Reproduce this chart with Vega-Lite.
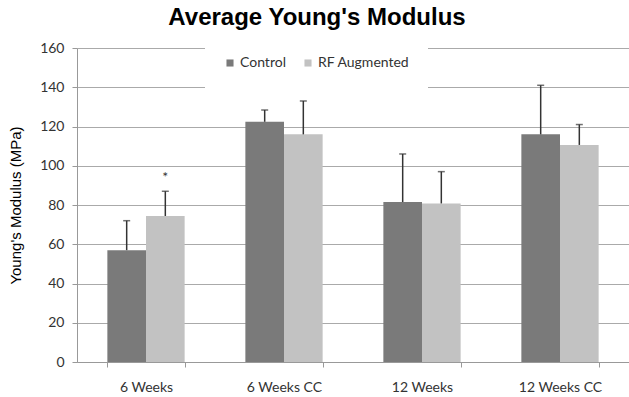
{
  "$schema": "https://vega.github.io/schema/vega-lite/v6.json",
  "width": 552,
  "height": 314,
  "autosize": {"type": "none"},
  "padding": {"left": 77, "top": 48, "right": 0, "bottom": 35},
  "background": "white",
  "title": {"text": "Average Young's Modulus", "font": "Liberation Sans", "fontSize": 24, "fontWeight": "bold", "color": "#000", "dx": -36, "offset": 8},
  "config": {"view": {"stroke": null}},
  "data": {"values": [
    {"group": "6 Weeks", "series": "Control", "mean": 57, "upper": 72},
    {"group": "6 Weeks", "series": "RF Augmented", "mean": 74.4, "upper": 87, "star": "*", "star_y": 94},
    {"group": "6 Weeks CC", "series": "Control", "mean": 122.4, "upper": 128.4},
    {"group": "6 Weeks CC", "series": "RF Augmented", "mean": 116, "upper": 133},
    {"group": "12 Weeks", "series": "Control", "mean": 81.5, "upper": 106},
    {"group": "12 Weeks", "series": "RF Augmented", "mean": 80.8, "upper": 97},
    {"group": "12 Weeks CC", "series": "Control", "mean": 116, "upper": 141},
    {"group": "12 Weeks CC", "series": "RF Augmented", "mean": 110.6, "upper": 121}
  ]},
  "encoding": {
    "x": {"field": "group", "type": "nominal", "sort": ["6 Weeks", "6 Weeks CC", "12 Weeks", "12 Weeks CC"],
      "scale": {"paddingInner": 0.44, "paddingOuter": 0.22},
      "axis": {"title": null, "labelAngle": 0, "grid": false, "tickBand": "extent", "tickSize": 5, "tickColor": "#999", "domainColor": "#999", "labelFont": "Lato", "labelFontSize": 14, "labelColor": "#333", "labelPadding": 13}},
    "xOffset": {"field": "series", "type": "nominal", "sort": ["Control", "RF Augmented"], "scale": {"paddingInner": 0, "paddingOuter": 0}}
  },
  "layer": [
    {
      "mark": {"type": "bar"},
      "encoding": {
        "y": {"field": "mean", "type": "quantitative", "scale": {"domain": [0, 160]},
          "axis": {"title": "Young's Modulus (MPa)", "titleFont": "Liberation Sans", "titleFontSize": 15, "titleFontWeight": "normal", "titleColor": "#000", "titlePadding": 16,
            "values": [0, 20, 40, 60, 80, 100, 120, 140, 160], "labelOverlap": false, "gridColor": "#aaa", "gridWidth": 1, "domainColor": "#999", "tickColor": "#999", "tickSize": 5,
            "labelFont": "Lato", "labelFontSize": 14, "labelColor": "#333", "labelPadding": 8}},
        "color": {"field": "series", "type": "nominal", "sort": ["Control", "RF Augmented"],
          "scale": {"domain": ["Control", "RF Augmented"], "range": ["#7a7a7a", "#c2c2c2"]},
          "legend": {"title": null, "orient": "none", "direction": "horizontal", "legendX": 128, "legendY": -10, "fillColor": "white", "padding": 18,
            "symbolType": "square", "symbolSize": 50, "symbolStrokeWidth": 0, "symbolOffset": 0, "labelOffset": 3, "labelFont": "Lato", "labelFontSize": 14, "labelColor": "#333", "columnPadding": 15, "labelLimit": 200}}
      }
    },
    {
      "mark": {"type": "rule", "color": "#333", "strokeWidth": 1.5},
      "encoding": {
        "y": {"field": "mean", "type": "quantitative", "scale": {"domain": [0, 160]},
          "axis": {"title": "Young's Modulus (MPa)", "titleFont": "Liberation Sans", "titleFontSize": 15, "titleFontWeight": "normal", "titleColor": "#000", "titlePadding": 16,
            "values": [0, 20, 40, 60, 80, 100, 120, 140, 160], "labelOverlap": false, "gridColor": "#aaa", "gridWidth": 1, "domainColor": "#999", "tickColor": "#999", "tickSize": 5,
            "labelFont": "Lato", "labelFontSize": 14, "labelColor": "#333", "labelPadding": 8}},
        "y2": {"field": "upper"}}
    },
    {
      "mark": {"type": "tick", "color": "#333", "thickness": 1.5, "size": 7, "orient": "horizontal"},
      "encoding": {
        "y": {"field": "upper", "type": "quantitative", "scale": {"domain": [0, 160]},
          "axis": {"title": "Young's Modulus (MPa)", "titleFont": "Liberation Sans", "titleFontSize": 15, "titleFontWeight": "normal", "titleColor": "#000", "titlePadding": 16,
            "values": [0, 20, 40, 60, 80, 100, 120, 140, 160], "labelOverlap": false, "gridColor": "#aaa", "gridWidth": 1, "domainColor": "#999", "tickColor": "#999", "tickSize": 5,
            "labelFont": "Lato", "labelFontSize": 14, "labelColor": "#333", "labelPadding": 8}}}
    },
    {
      "transform": [{"filter": "datum.star"}],
      "mark": {"type": "text", "font": "Lato", "fontSize": 14, "color": "#333"},
      "encoding": {
        "y": {"field": "star_y", "type": "quantitative", "scale": {"domain": [0, 160]},
          "axis": {"title": "Young's Modulus (MPa)", "titleFont": "Liberation Sans", "titleFontSize": 15, "titleFontWeight": "normal", "titleColor": "#000", "titlePadding": 16,
            "values": [0, 20, 40, 60, 80, 100, 120, 140, 160], "labelOverlap": false, "gridColor": "#aaa", "gridWidth": 1, "domainColor": "#999", "tickColor": "#999", "tickSize": 5,
            "labelFont": "Lato", "labelFontSize": 14, "labelColor": "#333", "labelPadding": 8}},
        "text": {"field": "star"}}
    }
  ]
}
